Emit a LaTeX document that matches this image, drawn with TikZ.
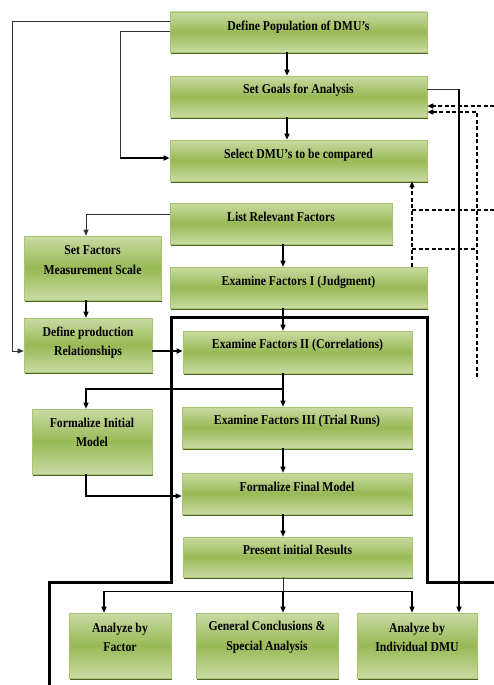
\documentclass[tikz,border=0pt]{standalone}
\usepackage{fontspec}
\setmainfont{Liberation Serif}[FakeStretch=0.87]
\usetikzlibrary{arrows.meta,shadows}
\definecolor{gtop}{HTML}{C8DBA3}
\definecolor{gmid}{HTML}{99B956}
\definecolor{gbor}{HTML}{A8C46C}
\definecolor{gsh}{HTML}{4F6228}
\tikzset{
  gbox/.style={draw=gbor, line width=0.6pt, top color=gtop, bottom color=gtop, middle color=gmid,
    inner sep=0pt, drop shadow={shadow xshift=0.9pt, shadow yshift=-1.8pt, fill=gsh, opacity=1}},
  txt/.style={font=\bfseries\fontsize{13.5}{19.5}\selectfont, align=center, inner sep=0pt},
  tip/.style={-{Triangle[length=6pt,width=5pt]}},
  arr/.style={line width=1.2pt, tip},
  thinln/.style={line width=0.8pt, draw=black!80},
  thinarr/.style={line width=0.8pt, draw=black!80, tip},
  medarr/.style={line width=1.6pt, tip},
  thickarr/.style={line width=2.2pt, tip},
  dashln/.style={line width=1.3pt, dash pattern=on 4pt off 2.5pt},
  dasharr/.style={dashln, tip},
  frame/.style={line width=3pt, line join=miter},
}
\begin{document}
\begin{tikzpicture}[x=1pt,y=-1pt]
\useasboundingbox (0,0) rectangle (494,685);

% thick frame
\draw[frame] (49,685) -- (49,582) -- (171,582) -- (171,317) -- (427,317) -- (427,582) -- (494,582);

% boxes
\node[gbox, minimum width=257pt, minimum height=40pt] (pop) at (298.5,32) {};
\node[gbox, minimum width=257pt, minimum height=41pt] (goals) at (298.5,96.5) {};
\node[gbox, minimum width=257pt, minimum height=41pt] (select) at (298.5,160.5) {};
\node[gbox, minimum width=222pt, minimum height=41pt] (list) at (281,223.5) {};
\node[gbox, minimum width=137pt, minimum height=64pt] (scale) at (92.5,268) {};
\node[gbox, minimum width=257pt, minimum height=41pt] (ex1) at (298.5,287.5) {};
\node[gbox, minimum width=128pt, minimum height=54pt] (prod) at (88,345) {};
\node[gbox, minimum width=229pt, minimum height=42pt] (ex2) at (297.5,352) {};
\node[gbox, minimum width=120pt, minimum height=65pt] (init) at (92,441.5) {};
\node[gbox, minimum width=230pt, minimum height=41pt] (ex3) at (297,427.5) {};
\node[gbox, minimum width=230pt, minimum height=41pt] (final) at (297,493.5) {};
\node[gbox, minimum width=229pt, minimum height=40pt] (present) at (297.5,557) {};
\node[gbox, minimum width=102pt, minimum height=65pt] (afac) at (120,645.5) {};
\node[gbox, minimum width=142pt, minimum height=65pt] (gen) at (267,645.5) {};
\node[gbox, minimum width=120pt, minimum height=65pt] (adm) at (417,645.5) {};

% texts
\node[txt] (t1) at (298.5,27) {Define Population of DMU’s};
\node[txt] (t2) at (298.5,90) {Set Goals for Analysis};
\node[txt] (t3) at (298.5,155) {Select DMU’s to be compared};
\node[txt] (t4) at (281,217) {List Relevant Factors};
\node[txt] (t5) at (92.5,260) {Set Factors\\Measurement Scale};
\node[txt] (t6) at (298.5,282) {Examine Factors I (Judgment)};
\node[txt] (t7) at (88,342.5) {Define production\\Relationships};
\node[txt] (t8) at (297.5,345) {Examine Factors II (Correlations)};
\node[txt] (t9) at (92,432.5) {Formalize Initial\\Model};
\node[txt] (t10) at (297,421.5) {Examine Factors III (Trial Runs)};
\node[txt] (t11) at (297,486.5) {Formalize Final Model};
\node[txt] (t12) at (297.5,550) {Present initial Results};
\node[txt] (t13) at (120,637.5) {Analyze by\\Factor};
\node[txt] (t14) at (267,637.5) {General Conclusions \&\\Special Analysis};
\node[txt] (t15) at (417,637.5) {Analyze by\\Individual DMU};

% helper coordinates
\coordinate (x12) at (12,0);
\coordinate (x86) at (86,0);
\coordinate (x104) at (104,0);
\coordinate (x120) at (120,0);
\coordinate (x283) at (283,0);
\coordinate (x287) at (287,0);
\coordinate (x412) at (412,0);
\coordinate (x459) at (459,0);
\coordinate (x477) at (477,0);
\coordinate (x494) at (494,0);
\coordinate (y21) at (0,21);
\coordinate (y31) at (0,31);
\coordinate (y89) at (0,89);
\coordinate (y106) at (0,106);
\coordinate (y112) at (0,112);
\coordinate (y158) at (0,158);
\coordinate (y210) at (0,210);
\coordinate (y214) at (0,214);
\coordinate (y249) at (0,249);
\coordinate (y351) at (0,351);
\coordinate (y377) at (0,377);
\coordinate (y389) at (0,389);
\coordinate (y496) at (0,496);
\coordinate (y591) at (0,591);

% connectors
\draw[arr] (pop.south -| x287) -- (goals.north -| x287);
\draw[arr] (goals.south -| x287) -- (select.north -| x287);
\draw[thinarr] (pop.west |- y21) -| (x12 |- y351) -- (prod.west |- y351);
\draw[thinln] (pop.west |- y31) -| (x120 |- y158);
\draw[medarr] (x120 |- y158) -- (select.west |- y158);
\draw[thinln] (goals.east |- y89) -- (x459 |- y89);
\draw[medarr] (x459 |- y89) -- (adm.north -| x459);

\draw[dasharr] (x494 |- y106) -- (goals.east |- y106);
\draw[dasharr] (x477 |- y377) -- (x477 |- y112) -- (goals.east |- y112);
\draw[dasharr] (ex1.north -| x412) -- (select.south -| x412);
\draw[dashln] (x412 |- y210) -- (x494 |- y210);
\draw[dashln] (x412 |- y249) -- (x477 |- y249);

\draw[thinarr] (list.west |- y214) -| (scale.north -| x86);
\draw[arr] (list.south -| x283) -- (ex1.north -| x283);
\draw[arr] (scale.south -| x86) -- (prod.north -| x86);
\draw[arr] (ex1.south -| x283) -- (ex2.north -| x283);
\draw[thickarr] (prod.east |- y351) -- (ex2.west |- y351);
\draw[arr] (ex2.south -| x283) -- (ex3.north -| x283);
\draw[arr] (x283 |- y389) -| (init.north -| x86);
\draw[arr] (ex3.south -| x283) -- (final.north -| x283);
\draw[arr] (init.south -| x86) |- (final.west |- y496);
\draw[arr] (final.south -| x283) -- (present.north -| x283);

\draw[thinln] (present.south -| x283) -- (x283 |- y591);
\draw[line width=1pt] (x104 |- y591) -- (x412 |- y591);
\draw[arr] (x104 |- y591) -- (afac.north -| x104);
\draw[arr] (x283 |- y591) -- (gen.north -| x283);
\draw[arr] (x412 |- y591) -- (adm.north -| x412);
\end{tikzpicture}
\end{document}
